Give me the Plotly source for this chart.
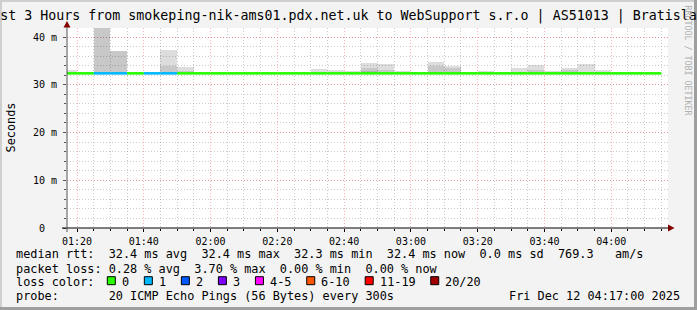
import plotly.graph_objects as go
import pandas as pd

# ---------------- data ----------------
title_text = "Last 3 Hours from smokeping-nik-ams01.pdx.net.uk to WebSupport s.r.o | AS51013 | Bratislava"
bin_start = pd.date_range("2025-12-12 01:15", periods=36, freq="5min")

median_rtt = [32.4, 32.4, 32.4, 32.4, 32.4, 32.4, 32.4, 32.4, 32.4, 32.4, 32.4, 32.4,
              32.4, 32.4, 32.4, 32.4, 32.4, 32.4, 32.4, 32.4, 32.4, 32.4, 32.4, 32.4,
              32.4, 32.4, 32.4, 32.4, 32.4, 32.4, 32.4, 32.4, 32.4, 32.4, 32.4, 32.4]
loss_count = [0, 0, 1, 1, 0, 1, 1, 0, 0, 0, 0, 0,
              0, 0, 0, 0, 0, 0, 0, 0, 0, 0, 0, 0,
              0, 0, 0, 0, 0, 0, 0, 0, 0, 0, 0, 0]
smoke_min = [32.3] * 36
smoke_dark = [32.4, 32.4, 32.4, 32.4, 32.4, 32.4, 32.4, 32.4, 32.4, 32.4, 32.4, 32.4,
              32.4, 32.4, 32.4, 32.4, 32.4, 32.4, 32.8, 32.4, 32.4, 32.4, 32.6, 32.4,
              32.4, 32.4, 32.4, 32.4, 32.4, 32.4, 32.4, 32.4, 32.4, 32.4, 32.4, 32.4]
smoke_mid = [32.4, 32.4, 41.9, 37.1, 32.4, 32.4, 33.9, 32.8, 32.4, 32.4, 32.4, 32.4,
             32.4, 32.4, 32.4, 32.4, 32.4, 32.4, 33.6, 33.2, 32.4, 32.7, 33.9, 33.6,
             32.4, 32.4, 32.4, 32.4, 33.0, 32.4, 33.1, 32.4, 32.4, 32.4, 32.4, 32.4]
smoke_max = [33.2, 32.7, 41.9, 37.1, 32.4, 32.4, 37.3, 33.8, 32.4, 32.4, 32.4, 32.7,
             32.4, 32.4, 32.4, 33.3, 33.1, 32.95, 34.55, 34.3, 32.8, 32.7, 34.8, 34.0,
             32.7, 32.9, 32.7, 33.6, 34.2, 32.9, 33.6, 34.35, 33.1, 32.4, 32.4, 32.4]

loss_labels = ["0", "1", "2", "3", "4-5", "6-10", "11-19", "20/20"]
loss_colors = ["#26ff00", "#00b8ff", "#0059ff", "#7e00ff", "#ff00ff", "#ff5500", "#ff0000", "#a10000"]

y_tickvals = [0, 10, 20, 30, 40]
y_ticktext = ["0\u00a0\u00a0", "10 m", "20 m", "30 m", "40 m"]

legend_lines = [
    "median rtt:  32.4 ms avg  32.4 ms max  32.3 ms min  32.4 ms now  0.0 ms sd  769.3   am/s",
    "packet loss: 0.28 % avg  3.70 % max  0.00 % min  0.00 % now",
]
probe_text = "probe:       20 ICMP Echo Pings (56 Bytes) every 300s"
date_text = "Fri Dec 12 04:17:00 2025"

# ---------------- geometry helpers ----------------
W, H = 697, 310
L, R, T, B = 67, 668, 28, 228
MONO = "DejaVu Sans Mono"


def px(x):
    return (x - L) / (R - L)


def py(y):
    return (B - y) / (B - T)


def loss_index(n):
    if n <= 3:
        return n
    if n <= 5:
        return 4
    if n <= 10:
        return 5
    if n <= 19:
        return 6
    return 7


fig = go.Figure()

step = pd.Timedelta(minutes=5)
centers = [t + step / 2 for t in bin_start]
width_ms = 300000

layers = [
    (smoke_min, smoke_dark, "rgba(0,0,0,0.30)"),
    (smoke_dark, smoke_mid, "rgba(0,0,0,0.215)"),
    (smoke_mid, smoke_max, "rgba(0,0,0,0.135)"),
]
for lo, hi, col in layers:
    fig.add_trace(go.Bar(
        x=centers, base=lo, y=[max(h - l, 0) for l, h in zip(lo, hi)],
        width=width_ms, marker=dict(color=col, line=dict(width=0)),
        hoverinfo="skip", showlegend=False))

# median line segments coloured by loss
for ci, col in enumerate(loss_colors):
    xs, ys = [], []
    for t, m, n in zip(bin_start, median_rtt, loss_count):
        if loss_index(n) == ci:
            xs += [t, t + step, None]
            ys += [m, m, None]
    if xs:
        fig.add_trace(go.Scatter(x=xs, y=ys, mode="lines",
                                 line=dict(color=col, width=2.6),
                                 hoverinfo="skip", showlegend=False))

shapes = []
# frame
shapes += [
    dict(type="rect", xref="paper", yref="paper", x0=px(0), x1=px(W), y0=py(0), y1=py(2),
         fillcolor="#cfcfcf", line=dict(width=0)),
    dict(type="rect", xref="paper", yref="paper", x0=px(0), x1=px(2), y0=py(0), y1=py(H),
         fillcolor="#cfcfcf", line=dict(width=0)),
    dict(type="rect", xref="paper", yref="paper", x0=px(W - 3), x1=px(W), y0=py(0), y1=py(H),
         fillcolor="#9e9e9e", line=dict(width=0)),
    dict(type="rect", xref="paper", yref="paper", x0=px(0), x1=px(W), y0=py(H - 3), y1=py(H),
         fillcolor="#9e9e9e", line=dict(width=0)),
]
# axis lines
shapes += [
    dict(type="line", xref="paper", yref="paper", x0=px(62), x1=px(669), y0=py(228), y1=py(228),
         line=dict(color="#000000", width=1), layer="above"),
    dict(type="line", xref="paper", yref="paper", x0=px(67), x1=px(67), y0=py(232), y1=py(24),
         line=dict(color="#555555", width=1), layer="above"),
]
# arrows
shapes += [
    dict(type="path", xref="paper", yref="paper",
         path="M {} {} L {} {} L {} {} Z".format(px(67), py(21), px(63.5), py(27.5), px(70.5), py(27.5)),
         fillcolor="#800000", line=dict(width=0), layer="above"),
    dict(type="path", xref="paper", yref="paper",
         path="M {} {} L {} {} L {} {} Z".format(px(674.5), py(228), px(668), py(224.5), px(668), py(231.5)),
         fillcolor="#800000", line=dict(width=0), layer="above"),
]

annotations = []
CW = 7.134
LEG_FS = 11.85
line_y = [254.3, 268.6, 282.4, 296.4]
for txt, yy in zip(legend_lines, line_y[:2]):
    annotations.append(dict(text=txt.replace(" ", "\u00a0"), xref="paper", yref="paper",
                            x=px(15), y=py(yy), xanchor="left", yanchor="middle", showarrow=False,
                            borderpad=0, font=dict(family=MONO, size=LEG_FS, color="#000")))
annotations.append(dict(text="loss\u00a0color:", xref="paper", yref="paper",
                        x=px(15), y=py(line_y[2]), xanchor="left", yanchor="middle", showarrow=False,
                        borderpad=0, font=dict(family=MONO, size=LEG_FS, color="#000")))
bx = 107.3
for lab, col in zip(loss_labels, loss_colors):
    shapes.append(dict(type="rect", xref="paper", yref="paper",
                       x0=px(bx), x1=px(bx + 8), y0=py(284.7), y1=py(276.7),
                       fillcolor=col, line=dict(color="#000000", width=1)))
    annotations.append(dict(text=lab, xref="paper", yref="paper", x=px(bx + 13.7), y=py(line_y[2]),
                            xanchor="left", yanchor="middle", showarrow=False, borderpad=0,
                            font=dict(family=MONO, size=LEG_FS, color="#000")))
    bx += 14.5 + CW * len(lab) + 15.4
annotations.append(dict(text=probe_text.replace(" ", "\u00a0"), xref="paper", yref="paper",
                        x=px(15), y=py(line_y[3]), xanchor="left", yanchor="middle", showarrow=False,
                        borderpad=0, font=dict(family=MONO, size=LEG_FS, color="#000")))
annotations.append(dict(text=date_text.replace(" ", "\u00a0"), xref="paper", yref="paper",
                        x=px(681), y=py(line_y[3]), xanchor="right", yanchor="middle", showarrow=False,
                        borderpad=0, font=dict(family=MONO, size=LEG_FS, color="#000")))
# y axis title
annotations.append(dict(text="Seconds", xref="paper", yref="paper", x=px(10.8), y=py(127.7),
                        textangle=-90, xanchor="center", yanchor="middle", showarrow=False, borderpad=0,
                        font=dict(family=MONO, size=LEG_FS, color="#000")))
# watermark
annotations.append(dict(text="RRDTOOL\u00a0/\u00a0TOBI\u00a0OETIKER", xref="paper", yref="paper",
                        x=px(687.5), y=py(60), textangle=90, xanchor="center", yanchor="middle",
                        showarrow=False, borderpad=0,
                        font=dict(family=MONO, size=8.3, color="#b0b0b0")))

fig.update_layout(
    width=W, height=H, autosize=False,
    margin=dict(l=L, r=W - R, t=T, b=H - B, pad=0),
    paper_bgcolor="#f3f3f3", plot_bgcolor="#ffffff",
    barmode="overlay", bargap=0, showlegend=False,
    font=dict(family=MONO, size=10, color="#000"),
    title=dict(text=title_text.replace(" ", "\u00a0"), x=0.5, xref="container", xanchor="center",
               y=1 - 15 / H, yref="container", yanchor="middle",
               font=dict(family=MONO, size=13.3, color="#000")),
    shapes=shapes, annotations=annotations,
)
fig.update_xaxes(
    type="date", range=["2025-12-12 01:17", "2025-12-12 04:17"],
    tick0="2025-12-12 01:20", dtick=20 * 60 * 1000, tickformat="%H:%M",
    showgrid=True, gridcolor="rgba(255,90,90,0.45)", griddash="1px,2px", gridwidth=1,
    ticks="outside", ticklen=3, tickcolor="#000", tickfont=dict(family=MONO, size=10),
    minor=dict(dtick=5 * 60 * 1000, tick0="2025-12-12 01:20", showgrid=True,
               gridcolor="rgba(140,140,140,0.45)", griddash="1px,2px",
               ticks="outside", ticklen=2, tickcolor="#000"),
    showline=False, zeroline=False, fixedrange=True, ticklabelstandoff=1,
)
fig.update_yaxes(
    range=[0, 41.9], tickvals=y_tickvals, ticktext=y_ticktext,
    showgrid=True, gridcolor="rgba(255,90,90,0.45)", griddash="1px,2px", gridwidth=1,
    ticks="outside", ticklen=3, tickcolor="#555", tickfont=dict(family=MONO, size=10),
    minor=dict(dtick=2, tick0=0, showgrid=True, gridcolor="rgba(140,140,140,0.45)",
               griddash="1px,2px", ticks="outside", ticklen=2, tickcolor="#555"),
    showline=False, zeroline=False, fixedrange=True, ticklabelstandoff=4,
)

fig.write_html("out.html")
